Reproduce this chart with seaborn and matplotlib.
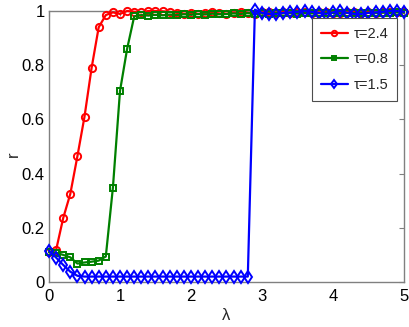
import numpy as np
import pandas as pd
import matplotlib
matplotlib.use("Agg")
import matplotlib.pyplot as plt
import seaborn as sns

# ---- data ----
lam = [round(0.1 * i, 1) for i in range(51)]

r_tau24 = [0.110, 0.118, 0.236, 0.325, 0.464, 0.610, 0.790, 0.940, 0.985, 0.995,
           0.989, 1.000, 0.997, 0.995, 1.000, 1.000, 0.999, 0.997, 0.993, 0.990,
           0.992, 0.989, 0.993, 0.995, 0.991, 0.990, 0.994, 0.996, 0.993, 0.990,
           0.995, 0.997, 0.994, 0.996, 0.992, 0.995, 0.997, 0.993, 0.995, 0.996,
           0.994, 0.992, 0.995, 0.997, 0.994, 0.996, 0.993, 0.995, 0.997, 0.996,
           0.995]
r_tau08 = [0.110, 0.108, 0.100, 0.091, 0.068, 0.072, 0.075, 0.079, 0.094, 0.348,
           0.705, 0.860, 0.980, 0.985, 0.983, 0.986, 0.984, 0.987, 0.985, 0.988,
           0.986, 0.989, 0.987, 0.990, 0.988, 0.989, 0.991, 0.989, 0.992, 0.990,
           0.991, 0.990, 0.993, 0.991, 0.992, 0.990, 0.993, 0.991, 0.992, 0.994,
           0.993, 0.991, 0.993, 0.992, 0.994, 0.993, 0.992, 0.994, 0.993, 0.995,
           0.994]
r_tau15 = [0.116, 0.090, 0.063, 0.038, 0.023, 0.020, 0.020, 0.020, 0.020, 0.020,
           0.020, 0.020, 0.020, 0.020, 0.020, 0.020, 0.020, 0.020, 0.020, 0.020,
           0.020, 0.020, 0.020, 0.020, 0.020, 0.020, 0.020, 0.020, 0.020, 1.005,
           0.993, 0.989, 0.989, 0.993, 0.995, 0.997, 1.000, 0.997, 0.993, 0.989,
           0.995, 1.000, 0.993, 0.989, 0.989, 0.993, 0.995, 0.997, 1.000, 1.000,
           0.997]

labels = ["τ=2.4", "τ=0.8", "τ=1.5"]
colors = ["#ff0000", "#008000", "#0000ff"]
markers = ["o", "s", "d"]

# ---- figure ----
sns.set_style("white")
plt.rcParams["font.family"] = ["Liberation Sans", "DejaVu Sans"]

fig = plt.figure(figsize=(4.09, 3.27), dpi=100)
ax = fig.add_axes([49 / 409, 1 - 282 / 327, (404 - 49) / 409, (282 - 11) / 327])

series = [r_tau24, r_tau08, r_tau15]
msizes = [5.2, 4.4, 6.0]
for ys, lab, col, mk, ms in zip(series, labels, colors, markers, msizes):
    df = pd.DataFrame({"lam": lam, "r": ys})
    sns.lineplot(data=df, x="lam", y="r", ax=ax, color=col, marker=mk,
                 markersize=ms, markerfacecolor="none", markeredgecolor=col,
                 markeredgewidth=1.4, linewidth=1.6, label=lab, clip_on=False,
                 zorder=3)

ax.set_xlim(0, 5)
ax.set_ylim(0, 1)
ax.set_xticks([0, 1, 2, 3, 4, 5])
ax.set_xticklabels(["0", "1", "2", "3", "4", "5"])
ax.set_yticks([0, 0.2, 0.4, 0.6, 0.8, 1.0])
ax.set_yticklabels(["0", "0.2", "0.4", "0.6", "0.8", "1"])
ax.tick_params(axis="both", direction="in", length=3.5, width=0.8,
               color="0.5", labelsize=12, labelcolor="black",
               top=True, right=True)
ax.tick_params(axis="x", pad=5)
ax.tick_params(axis="y", pad=3)
for s in ax.spines.values():
    s.set_visible(True)
    s.set_color("0.5")
    s.set_linewidth(1.0)

ax.set_xlabel("λ", fontsize=12, labelpad=3)
ax.set_ylabel("r", fontsize=12)
ax.yaxis.set_label_coords(-0.078, 0.47)

leg = ax.legend(loc="upper right", bbox_to_anchor=(397 / 409, 1 - 18 / 327),
                bbox_transform=fig.transFigure, borderaxespad=0,
                fontsize=10.5, frameon=True, fancybox=False, framealpha=1,
                edgecolor="0.3", handlelength=1.9, handletextpad=0.35,
                labelspacing=0.8, borderpad=0.6, markerscale=0.75)
leg.get_frame().set_linewidth(0.8)

fig.savefig("out.png", dpi=100)
